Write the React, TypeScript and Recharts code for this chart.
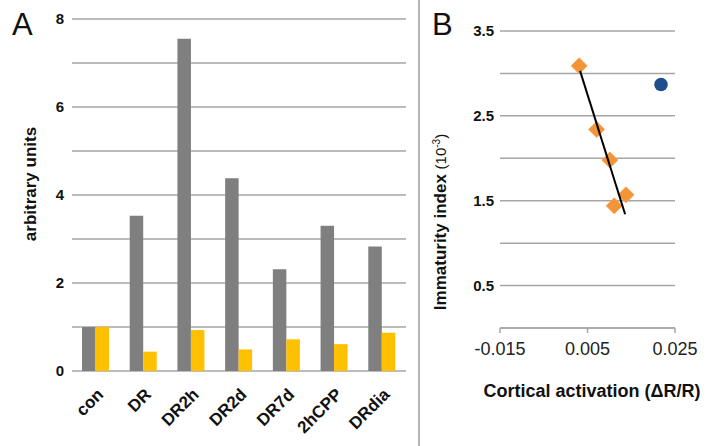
import React from 'react';
import { BarChart, Bar, XAxis, YAxis, CartesianGrid, ScatterChart, Scatter } from 'recharts';

// Panel A data
const categories = ['con', 'DR', 'DR2h', 'DR2d', 'DR7d', '2hCPP', 'DRdia'];
const grayValues = [1.0, 3.53, 7.55, 4.38, 2.31, 3.3, 2.83];
const yellowValues = [1.0, 0.44, 0.93, 0.49, 0.72, 0.61, 0.87];
const barTicks = [0, 1, 2, 3, 4, 5, 6, 7, 8];

// Panel B data
const orangeX = [0.0031, 0.0071, 0.0101, 0.0138, 0.0111];
const orangeY = [3.09, 2.34, 1.98, 1.57, 1.44];
const blueX = [0.0218];
const blueY = [2.87];
const trendX = [0.0033, 0.0136];
const trendY = [3.03, 1.34];
const scatterYTicks = [0, 0.5, 1, 1.5, 2, 2.5, 3, 3.5];
const scatterXTicks = [-0.015, 0.005, 0.025];

const barData = categories.map((c, i) => ({ cat: c, gray: grayValues[i], yellow: yellowValues[i] }));
const orangeData = orangeX.map((x, i) => ({ x, y: orangeY[i] }));
const blueData = blueX.map((x, i) => ({ x, y: blueY[i] }));
const trendData = trendX.map((x, i) => ({ x, y: trendY[i] }));

const FONT = "'Liberation Sans', Arial, sans-serif";
const GRID = '#a6a6a6';

const Diamond = (props: any) => {
  const { cx, cy } = props;
  const r = 8;
  return (
    <polygon
      points={`${cx},${cy - r} ${cx + r},${cy} ${cx},${cy + r} ${cx - r},${cy}`}
      fill="#F39536"
      stroke="#F7A458"
      strokeWidth={1}
      strokeLinejoin="round"
    />
  );
};

const Dot = (props: any) => {
  const { cx, cy } = props;
  return <circle cx={cx} cy={cy} r={6.8} fill="#1E4E8C" />;
};

const NoShape = () => <g />;

export default function App() {
  return (
    <div style={{ position: 'absolute', left: 0, top: 0, width: 711, height: 446, background: '#fff', fontFamily: FONT }}>
      {/* Panel A */}
      <div style={{ position: 'absolute', left: 0, top: 0 }}>
        <BarChart width={420} height={446} data={barData} margin={{ top: 19, right: 14, bottom: 0, left: 0 }} barGap={0}>
          <CartesianGrid horizontal vertical={false} stroke={GRID} strokeWidth={1.5} />
          <XAxis
            dataKey="cat"
            height={75}
            axisLine={false}
            tickLine={false}
            tickSize={0}
            tickMargin={16}
            interval={0}
            angle={-45}
            textAnchor="end"
            tick={{ fontSize: 17, fontWeight: 'bold', fill: '#111', fontFamily: FONT, textAnchor: 'end' }}
          />
          <YAxis
            width={72}
            domain={[0, 8]}
            ticks={barTicks}
            axisLine={false}
            tickLine={false}
            tickFormatter={(v: number) => (v % 2 === 0 ? String(v) : '')}
            tick={{ fontSize: 15, fontWeight: 'bold', fill: '#111', fontFamily: FONT }}
          />
          <Bar dataKey="gray" fill="#7F7F7F" barSize={13.5} isAnimationActive={false} />
          <Bar dataKey="yellow" fill="#FFC000" barSize={13.5} isAnimationActive={false} />
        </BarChart>
      </div>
      <div style={{ position: 'absolute', left: 12, top: 8, fontSize: 31, color: '#111', lineHeight: '34px' }}>A</div>
      <div
        style={{
          position: 'absolute', left: 31, top: 184, transform: 'translate(-50%, -50%) rotate(-90deg)',
          whiteSpace: 'nowrap', fontSize: 17, fontWeight: 'bold', color: '#111',
        }}
      >
        arbitrary units
      </div>

      {/* Divider */}
      <div style={{ position: 'absolute', left: 418, top: 0, width: 1.5, height: 446, background: '#b4b4b4' }} />

      {/* Panel B */}
      <div style={{ position: 'absolute', left: 420, top: 0 }}>
        <ScatterChart width={291} height={446} margin={{ top: 31, right: 36, bottom: 0, left: 0 }}>
          <CartesianGrid horizontal vertical={false} stroke={GRID} strokeWidth={1.5} />
          <XAxis
            type="number"
            dataKey="x"
            domain={[-0.015, 0.025]}
            ticks={scatterXTicks}
            height={118}
            allowDataOverflow
            stroke={GRID}
            axisLine={{ stroke: GRID, strokeWidth: 1.5 }}
            tickLine={{ stroke: GRID, strokeWidth: 1.5 }}
            tickSize={5}
            tickMargin={9}
            tickFormatter={(v: number) => v.toFixed(3)}
            tick={{ fontSize: 18, fill: '#222', fontFamily: FONT }}
          />
          <YAxis
            type="number"
            dataKey="y"
            width={80}
            domain={[0, 3.5]}
            ticks={scatterYTicks}
            axisLine={false}
            tickLine={false}
            tickSize={0}
            tickMargin={6}
            tickFormatter={(v: number) => (Math.round(v * 2) % 2 === 1 ? v.toFixed(1) : '')}
            tick={{ fontSize: 15, fontWeight: 'bold', fill: '#111', fontFamily: FONT }}
          />
          <Scatter data={orangeData} shape={Diamond} isAnimationActive={false} />
          <Scatter data={blueData} shape={Dot} isAnimationActive={false} />
          <Scatter
            data={trendData}
            shape={NoShape}
            line={{ stroke: '#000', strokeWidth: 2 }}
            isAnimationActive={false}
          />
        </ScatterChart>
      </div>
      <div style={{ position: 'absolute', left: 432, top: 8, fontSize: 31, color: '#111', lineHeight: '34px' }}>B</div>
      <div
        style={{
          position: 'absolute', left: 441, top: 222, transform: 'translate(-50%, -50%) rotate(-90deg)',
          whiteSpace: 'nowrap', fontSize: 17, fontWeight: 'bold', color: '#111',
        }}
      >
        Immaturity index <span style={{ fontWeight: 'normal', fontSize: 15 }}>(10<sup style={{ fontSize: 10 }}>-3</sup>)</span>
      </div>
      <div
        style={{
          position: 'absolute', left: 592, top: 391, transform: 'translate(-50%, -50%)',
          whiteSpace: 'nowrap', fontSize: 18, fontWeight: 'bold', color: '#111',
        }}
      >
        Cortical activation (ΔR/R)
      </div>
    </div>
  );
}
